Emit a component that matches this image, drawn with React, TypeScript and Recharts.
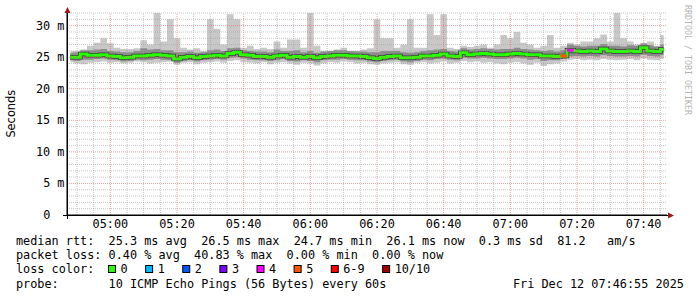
import React from 'react';
import { ComposedChart, Area, Line, Scatter, XAxis, YAxis, ReferenceLine } from 'recharts';

// ---- data (2-minute samples, 04:47 .. 07:47) ----
const minLo = [24.2, 24.0, 23.9, 24.1, 24.2, 24.3, 24.1, 24.2, 24.0, 24.1,
  24.3, 24.2, 24.0, 24.1, 24.2, 24.3, 23.8, 24.1, 24.2, 23.9,
  24.1, 24.2, 24.3, 24.1, 24.4, 24.5, 24.2, 24.1, 24.0, 24.2,
  23.9, 24.1, 24.2, 24.0, 23.8, 24.1, 24.0, 23.7, 24.0, 24.2,
  24.1, 24.3, 24.2, 24.0, 24.1, 23.9, 23.8, 24.0, 24.1, 24.2,
  23.9, 23.8, 24.1, 24.2, 24.0, 24.1, 24.3, 24.0, 24.1, 24.4,
  24.2, 24.3, 24.1, 24.2, 24.0, 23.9, 24.1, 24.2, 24.0, 23.8,
  24.1, 23.6, 23.9, 24.0, 24.3, 24.6, 24.7, 24.5, 24.6, 24.5,
  24.7, 24.6, 24.5, 24.6, 24.7, 24.5, 24.8, 24.6, 24.5, 24.7];
const lowQ = [24.5, 24.4, 24.6, 24.6, 24.7, 24.8, 24.6, 24.5, 24.3, 24.4,
  24.6, 24.5, 24.6, 24.7, 24.6, 24.5, 24.1, 24.4, 24.5, 24.3,
  24.5, 24.6, 24.7, 24.6, 24.9, 25.0, 24.8, 24.6, 24.5, 24.5,
  24.4, 24.5, 24.7, 24.4, 24.3, 24.5, 24.4, 24.2, 24.5, 24.6,
  24.6, 24.7, 24.6, 24.5, 24.5, 24.3, 24.2, 24.4, 24.5, 24.6,
  24.3, 24.2, 24.4, 24.6, 24.5, 24.7, 24.8, 24.6, 24.5, 24.9,
  24.8, 24.8, 24.9, 24.8, 24.7, 24.7, 24.8, 24.9, 24.8, 24.6,
  24.7, 24.4, 24.5, 24.5, 24.7, 25.1, 25.2, 25.1, 25.2, 25.1,
  25.3, 25.2, 25.1, 25.1, 25.2, 25.1, 25.4, 25.2, 25.1, 25.3];
const median = [25.0, 25.0, 25.5, 25.3, 25.3, 25.4, 25.2, 25.1, 24.9, 25.0,
  25.2, 25.2, 25.3, 25.4, 25.3, 25.2, 24.7, 25.0, 25.1, 24.9,
  25.1, 25.2, 25.3, 25.2, 25.6, 25.8, 25.4, 25.3, 25.1, 25.1,
  25.0, 25.2, 25.3, 25.0, 25.1, 25.0, 25.1, 24.9, 25.1, 25.2,
  25.3, 25.3, 25.2, 25.2, 25.1, 24.9, 24.8, 25.0, 25.1, 25.2,
  24.9, 24.9, 25.0, 25.2, 25.2, 25.3, 25.5, 25.2, 25.1, 25.7,
  25.4, 25.5, 25.6, 25.5, 25.4, 25.4, 25.5, 25.6, 25.5, 25.4,
  25.4, 25.2, 25.2, 25.1, 25.2, 26.1, 26.0, 25.9, 26.0, 25.9,
  26.3, 26.0, 25.9, 25.9, 26.0, 25.9, 26.5, 26.0, 25.9, 26.2];
const highQ = [25.7, 25.8, 26.1, 26.1, 26.2, 26.3, 26.0, 25.9, 25.8, 25.8,
  26.0, 26.4, 26.2, 26.3, 26.1, 26.1, 25.8, 25.8, 25.9, 25.7,
  25.8, 26.1, 26.2, 26.0, 26.4, 26.5, 26.1, 26.0, 25.9, 25.9,
  25.8, 26.2, 26.0, 26.0, 26.1, 25.8, 26.0, 25.7, 25.9, 26.0,
  26.1, 26.1, 26.0, 25.9, 25.9, 25.8, 25.8, 26.0, 26.0, 26.0,
  25.8, 25.7, 25.8, 26.0, 26.1, 26.2, 26.3, 26.0, 25.9, 26.4,
  26.2, 26.3, 26.4, 26.3, 26.2, 26.3, 26.3, 26.5, 26.3, 26.2,
  26.1, 26.0, 26.1, 25.9, 26.1, 27.0, 26.8, 26.7, 26.8, 26.8,
  27.1, 26.8, 26.8, 26.7, 26.9, 26.8, 27.2, 26.9, 26.7, 27.0];
const maxHi = [26.0, 26.0, 26.2, 26.8, 27.3, 28.0, 27.2, 26.5, 26.3, 26.3,
  26.4, 27.7, 27.0, 32.0, 27.5, 31.0, 28.0, 26.5, 26.2, 26.4,
  26.0, 31.0, 29.5, 27.0, 31.8, 31.0, 26.5, 26.8, 26.3, 26.5,
  26.3, 27.5, 26.5, 27.8, 27.8, 26.5, 32.0, 26.8, 26.0, 26.0,
  26.2, 26.5, 26.0, 26.0, 26.2, 26.4, 31.0, 28.0, 28.0, 26.5,
  27.0, 31.0, 26.5, 26.5, 31.8, 28.5, 31.8, 26.5, 26.3, 26.8,
  26.6, 26.8, 27.0, 26.5, 27.0, 28.5, 28.0, 29.0, 27.3, 27.0,
  26.5, 26.8, 28.5, 26.5, 26.8, 27.3, 27.0, 27.5, 27.5, 28.0,
  28.6, 27.5, 32.0, 28.0, 27.5, 27.0, 26.8, 27.5, 26.8, 28.5];
const lossEvents = [{ idx: 74, lost: 5 }, { idx: 75, lost: 4 }];

const xTickLabels = ['05:00', '05:20', '05:40', '06:00', '06:20', '06:40', '07:00', '07:20', '07:40'];
const yTickValues = [0, 5, 10, 15, 20, 25, 30];

const lossLegend = [
  { label: '0', color: '#26ff00' },
  { label: '1', color: '#00b8ff' },
  { label: '2', color: '#0059ff' },
  { label: '3', color: '#7e00ff' },
  { label: '4', color: '#ff00ff' },
  { label: '5', color: '#ff5500' },
  { label: '6-9', color: '#ff0000' },
  { label: '10/10', color: '#a10000' },
];
const statLine1 = 'median rtt:  25.3 ms avg  26.5 ms max  24.7 ms min  26.1 ms now  0.3 ms sd  81.2   am/s';
const statLine2 = 'packet loss: 0.40 % avg  40.83 % max  0.00 % min  0.00 % now';
const statLine3 = 'loss color:';
const statLine4 = 'probe:       10 ICMP Echo Pings (56 Bytes) every 60s';
const dateText = 'Fri Dec 12 07:46:55 2025';
const watermark = 'RRDTOOL / TOBI OETIKER';
const yLabel = 'Seconds';

// ---- derived ----
const STEP = 2; // minutes per sample
const START_OFFSET = 13; // 05:00 is 13 minutes after the graph start (04:47)
const data = median.map((m, i) => ({
  t: i * STEP + STEP / 2,
  lo: minLo[i], q1: lowQ[i], med: m, q3: highQ[i], hi: maxHi[i],
}));
const lossColor = (lost: number) => (lost >= 10 ? lossLegend[7].color : lost >= 6 ? lossLegend[6].color : lossLegend[lost].color);
const lossPts = lossEvents.map((e) => ({ t: data[e.idx].t, med: data[e.idx].med, color: lossColor(e.lost) }));
const xTicks = xTickLabels.map((_, k) => START_OFFSET + 20 * k);
const vMinor: number[] = [];
for (let v = 3; v < 180; v += 5) if ((v - START_OFFSET) % 20 !== 0) vMinor.push(v);
const hMinor: number[] = [];
for (let v = 1; v <= 32; v++) if (v % 5 !== 0) hMinor.push(v);
const hMajor = [5, 10, 15, 20, 25, 30];

const MONO = '"DejaVu Sans Mono", monospace';
const FS = 11.83;

const XTick = (p: any) => {
  const i = xTicks.indexOf(p.payload.value);
  return (
    <text x={p.x} y={228} textAnchor="middle" fontFamily={MONO} fontSize={FS} fill="#000">
      {xTickLabels[i]}
    </text>
  );
};
const YTick = (p: any) => {
  const v = p.payload.value;
  return (
    <text x={64.5} y={p.y + 4} textAnchor="end" fontFamily={MONO} fontSize={FS} fill="#000" style={{ whiteSpace: 'pre' }} xmlSpace="preserve">
      {v === 0 ? '0  ' : `${v} m`}
    </text>
  );
};

const SquareMark = (p: any) => (
  <rect x={p.cx - 3.4} y={p.cy - 1.5} width={6.8} height={3} fill={p.payload.color} />
);

export default function App() {
  let lx = 108;
  const legendItems = lossLegend.map((it) => {
    const bx = lx;
    lx = bx + 13 + it.label.length * 7.125 + 17;
    return (
      <g key={it.label}>
        <rect x={bx + 0.5} y={265.5} width={7} height={7} fill={it.color} stroke="#000" strokeWidth={1} />
        <text x={bx + 12.5} y={273} fontFamily={MONO} fontSize={FS} fill="#000">{it.label}</text>
      </g>
    );
  });
  return (
    <div style={{ position: 'absolute', left: 0, top: 0, width: 697, height: 297, background: '#fff' }}>
      <ComposedChart width={697} height={297} data={data} margin={{ top: 13, right: 30, left: 0, bottom: 0 }}>
        <XAxis dataKey="t" type="number" domain={[0, 180]} ticks={xTicks} tick={<XTick />} tickLine={false}
          axisLine={{ stroke: '#000' }} height={82} allowDataOverflow interval={0} />
        <YAxis type="number" domain={[0, 32]} ticks={yTickValues} tick={<YTick />} tickLine={false}
          axisLine={{ stroke: '#000' }} width={67} allowDataOverflow interval={0} />
        <Area type="step" dataKey={(d: any) => [d.lo, d.hi]} stroke="none" fill="#c8c8c8" fillOpacity={1} isAnimationActive={false} />
        <Area type="step" dataKey={(d: any) => [d.q1, d.q3]} stroke="none" fill="#8c8c8c" fillOpacity={1} isAnimationActive={false} />
        <Line type="step" dataKey="med" stroke="#3c3c3c" strokeWidth={4.5} dot={false} isAnimationActive={false} />
        <Line type="step" dataKey="med" stroke="#26ff00" strokeWidth={3} dot={false} isAnimationActive={false} />
        <Scatter data={lossPts} dataKey="med" shape={<SquareMark />} isAnimationActive={false} />
        {hMinor.map((v) => (
          <ReferenceLine key={'hm' + v} y={v} stroke="#a0a0a0" strokeOpacity={0.6} strokeDasharray="1 1" />
        ))}
        {vMinor.map((v) => (
          <ReferenceLine key={'vm' + v} x={v} stroke="#a0a0a0" strokeOpacity={0.6} strokeDasharray="1 1" />
        ))}
        {hMajor.map((v) => (
          <ReferenceLine key={'hM' + v} y={v} stroke="#f06060" strokeOpacity={0.6} strokeDasharray="1 1" />
        ))}
        {xTicks.map((v) => (
          <ReferenceLine key={'vM' + v} x={v} stroke="#f06060" strokeOpacity={0.6} strokeDasharray="1 1" />
        ))}
      </ComposedChart>
      <svg width={697} height={297} style={{ position: 'absolute', left: 0, top: 0, pointerEvents: 'none' }}>
        <line x1={63} y1={215.5} x2={668} y2={215.5} stroke="#000" />
        <line x1={67.5} y1={219} x2={67.5} y2={13} stroke="#000" />
        <polygon points="64.5,13 70.5,13 67.5,7" fill="#a01818" />
        <polygon points="668,212.5 668,218.5 674,215.5" fill="#a01818" />
        <text transform="translate(15,113.7) rotate(-90)" textAnchor="middle" fontFamily='"DejaVu Sans", sans-serif' fontSize={11.4} fill="#000">{yLabel}</text>
        <text transform="translate(685,5) rotate(90)" fontFamily={MONO} fontSize={8.3} fill="#b4b4b4">{watermark}</text>
        <g fontFamily={MONO} fontSize={FS} fill="#000" style={{ whiteSpace: 'pre' }}>
          <text x={16} y={245} xmlSpace="preserve">{statLine1}</text>
          <text x={16} y={259} xmlSpace="preserve">{statLine2}</text>
          <text x={16} y={273} xmlSpace="preserve">{statLine3}</text>
          <text x={16} y={287.5} xmlSpace="preserve">{statLine4}</text>
          <text x={513} y={287.5} xmlSpace="preserve">{dateText}</text>
        </g>
        {legendItems}
      </svg>
    </div>
  );
}
